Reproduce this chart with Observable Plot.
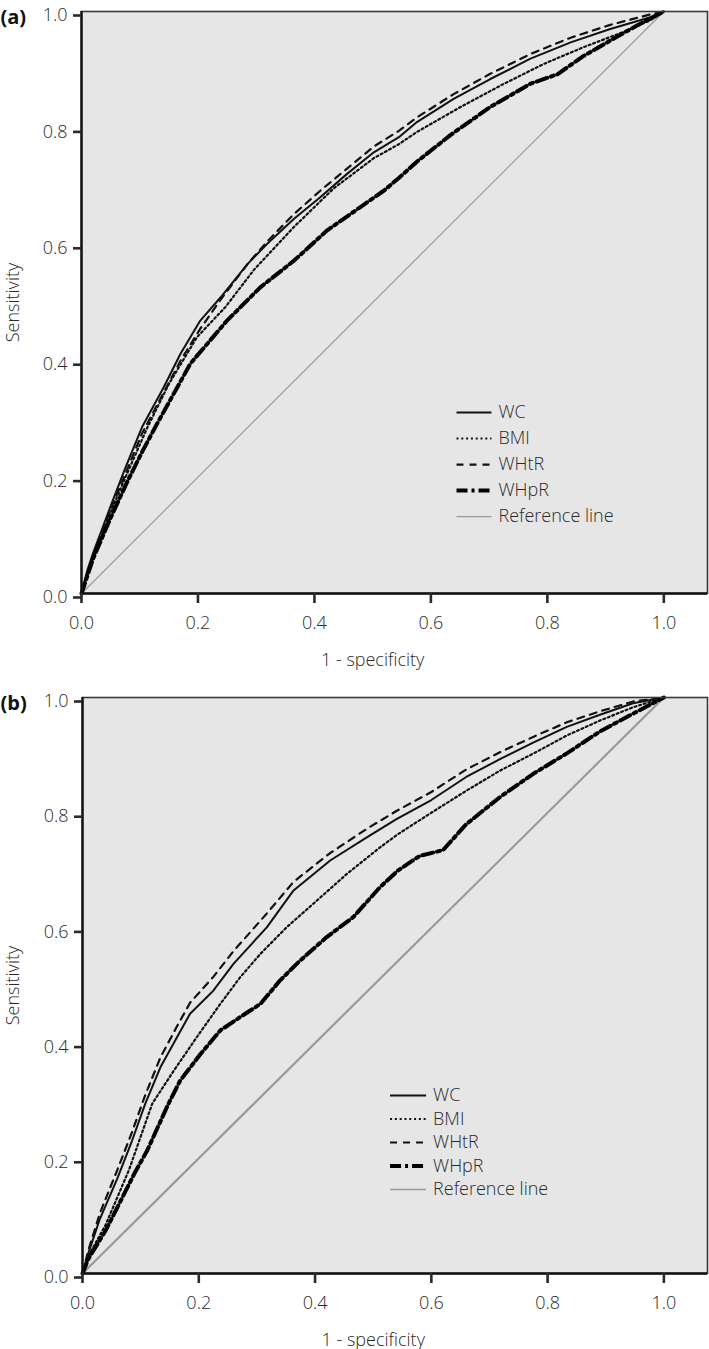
<!DOCTYPE html>
<html>
<head>
<meta charset="utf-8">
<script src="https://cdn.jsdelivr.net/npm/d3@7"></script>
<script src="https://cdn.jsdelivr.net/npm/@observablehq/plot@0.6"></script>
<style>
  html, body { margin: 0; padding: 0; background: #fff; }
  #chart div, #chart svg { display: block; }
</style>
</head>
<body>
<div id="chart"></div>
<script>
// ---------- data ----------
const seriesNames = ["WC", "BMI", "WHtR", "WHpR"];
const legendLabels = ["WC", "BMI", "WHtR", "WHpR", "Reference line"];
const xTicks = [0, 0.2, 0.4, 0.6, 0.8, 1.0];
const yTicks = [0, 0.2, 0.4, 0.6, 0.8, 1.0];
const referenceLine = [[0, 0], [1, 1]];

// Panel (a)
const aWC = [[0,0],[0.01,0.04],[0.02,0.07],[0.035,0.11],[0.05,0.15],[0.075,0.215],[0.104,0.286],[0.141,0.354],[0.170,0.412],[0.204,0.469],[0.239,0.509],[0.285,0.566],[0.319,0.601],[0.365,0.644],[0.410,0.681],[0.456,0.721],[0.502,0.758],[0.545,0.784],[0.576,0.810],[0.639,0.850],[0.702,0.884],[0.771,0.919],[0.840,0.947],[0.908,0.970],[0.977,0.990],[1,1]];
const aBMI = [[0,0],[0.01,0.035],[0.02,0.065],[0.035,0.10],[0.05,0.14],[0.08,0.21],[0.113,0.285],[0.150,0.36],[0.198,0.44],[0.247,0.492],[0.296,0.556],[0.365,0.630],[0.433,0.696],[0.502,0.748],[0.545,0.772],[0.576,0.793],[0.651,0.836],[0.720,0.873],[0.794,0.910],[0.863,0.939],[0.931,0.965],[0.977,0.985],[1,1]];
const aWHtR = [[0,0],[0.01,0.035],[0.02,0.065],[0.035,0.105],[0.05,0.145],[0.075,0.205],[0.104,0.275],[0.141,0.345],[0.170,0.400],[0.204,0.455],[0.239,0.505],[0.285,0.566],[0.319,0.605],[0.365,0.652],[0.410,0.692],[0.456,0.730],[0.502,0.768],[0.545,0.795],[0.576,0.818],[0.639,0.858],[0.702,0.893],[0.771,0.927],[0.840,0.955],[0.908,0.977],[0.977,0.995],[1,1]];
const aWHpR = [[0,0],[0.01,0.03],[0.02,0.06],[0.035,0.095],[0.05,0.13],[0.08,0.195],[0.105,0.245],[0.130,0.292],[0.187,0.395],[0.250,0.469],[0.307,0.526],[0.365,0.572],[0.422,0.624],[0.479,0.664],[0.519,0.692],[0.545,0.714],[0.576,0.742],[0.634,0.788],[0.702,0.836],[0.771,0.876],[0.817,0.892],[0.863,0.924],[0.908,0.950],[0.954,0.976],[1,1]];

// Panel (b)
const bWC = [[0,0],[0.01,0.035],[0.03,0.095],[0.06,0.165],[0.085,0.23],[0.108,0.295],[0.134,0.358],[0.163,0.411],[0.185,0.451],[0.225,0.491],[0.260,0.538],[0.317,0.601],[0.363,0.665],[0.426,0.717],[0.489,0.757],[0.540,0.789],[0.60,0.822],[0.66,0.862],[0.718,0.893],[0.776,0.922],[0.833,0.949],[0.890,0.970],[0.947,0.990],[1,1]];
const bBMI = [[0,0],[0.01,0.03],[0.04,0.085],[0.08,0.18],[0.120,0.295],[0.157,0.352],[0.197,0.411],[0.237,0.468],[0.271,0.514],[0.306,0.555],[0.351,0.601],[0.397,0.642],[0.455,0.694],[0.512,0.740],[0.543,0.763],[0.60,0.80],[0.66,0.838],[0.718,0.873],[0.776,0.903],[0.833,0.934],[0.890,0.960],[0.947,0.983],[1,1]];
const bWHtR = [[0,0],[0.01,0.04],[0.03,0.105],[0.06,0.18],[0.085,0.245],[0.108,0.31],[0.134,0.375],[0.163,0.43],[0.185,0.47],[0.225,0.515],[0.260,0.56],[0.317,0.625],[0.363,0.68],[0.426,0.73],[0.489,0.772],[0.540,0.803],[0.60,0.836],[0.66,0.875],[0.718,0.905],[0.776,0.932],[0.833,0.957],[0.890,0.976],[0.947,0.993],[1,1]];
const bWHpR = [[0,0],[0.01,0.025],[0.04,0.075],[0.07,0.135],[0.09,0.175],[0.111,0.213],[0.148,0.295],[0.168,0.335],[0.203,0.381],[0.237,0.422],[0.271,0.445],[0.306,0.468],[0.340,0.509],[0.374,0.543],[0.420,0.584],[0.466,0.619],[0.512,0.671],[0.543,0.700],[0.58,0.725],[0.62,0.735],[0.66,0.78],[0.718,0.827],[0.776,0.868],[0.833,0.903],[0.890,0.941],[0.947,0.972],[1,1]];

// ---------- styles ----------
const FONT = "'Open Sans', 'Noto Sans', sans-serif";
const styleOf = {
  "WC":   {stroke: "#111", strokeWidth: 2},
  "BMI":  {stroke: "#111", strokeWidth: 2.2, strokeDasharray: "2,2.8"},
  "WHtR": {stroke: "#111", strokeWidth: 2.2, strokeDasharray: "7,6"},
  "WHpR": {stroke: "#000", strokeWidth: 4, strokeDasharray: "11,4,3,4"},
  "Reference line": {stroke: "#9a9a9a", strokeWidth: 1.3}
};

function panel({tag, data, height, marginTop, marginBottom, marginLeft, refWidth, legend}) {
  const marks = [
    Plot.frame({fill: "#e6e6e6", stroke: null}),
    Plot.line(referenceLine, {x: d => d[0], y: d => d[1], ...styleOf["Reference line"], strokeWidth: refWidth})
  ];
  const order = ["WC", "BMI", "WHtR", "WHpR"];
  order.forEach((name, i) => {
    marks.push(Plot.line(data[i], {x: d => d[0], y: d => d[1], ...styleOf[name], strokeLinejoin: "round"}));
  });
  // legend inside plot
  legendLabels.forEach((name, i) => {
    const yv = legend.y0 - i * legend.step;
    marks.push(Plot.link([name], {x1: legend.x1, x2: legend.x2, y1: yv, y2: yv, ...styleOf[name]}));
    marks.push(Plot.text([name], {x: legend.tx, y: yv, text: d => d, textAnchor: "start", fontSize: 18, fontWeight: 300, fill: "#2a2a2a", lineAnchor: "middle"}));
  });
  marks.push(
    Plot.frame({stroke: "#3a3a3a", strokeWidth: 1.6}),
    Plot.ruleX([0], {stroke: "#111", strokeWidth: 2.4}),
    Plot.ruleY([0], {stroke: "#111", strokeWidth: 2.4}),
    Plot.axisX({ticks: xTicks, tickFormat: d3.format(".1f"), tickSize: 10, tickPadding: 13, fontSize: 18, fontWeight: 300, strokeWidth: 2.6, color: "#2a2a2a", label: null}),
    Plot.axisY({ticks: yTicks, tickFormat: d3.format(".1f"), tickSize: 8, tickPadding: 6, fontSize: 18, fontWeight: 300, strokeWidth: 2.6, color: "#2a2a2a", label: null, dy: 4}),
    Plot.text(["Sensitivity"], {frameAnchor: "left", dx: -(marginLeft - 13), rotate: -90, text: d => d, fontSize: 18, fontWeight: 300, fill: "#2a2a2a", textAnchor: "middle", lineAnchor: "middle"}),
    Plot.text(["1 - specificity"], {x: 0.5, frameAnchor: "bottom", dy: 67, text: d => d, fontSize: 18, fontWeight: 300, fill: "#2a2a2a", lineAnchor: "middle"}),
    Plot.text([tag], {frameAnchor: "top-left", dx: -marginLeft, dy: 6, text: d => d, fontSize: 20, fontWeight: "bold", fill: "#111", textAnchor: "start", lineAnchor: "middle"})
  );
  return Plot.plot({
    width: 709,
    height,
    marginTop,
    marginBottom,
    marginLeft,
    marginRight: 2,
    x: {domain: [0, 1.075], axis: null},
    y: {domain: [0, 1], axis: null},
    style: {fontFamily: FONT, background: "#fff", overflow: "visible"},
    marks
  });
}

const chart = document.getElementById("chart");
chart.appendChild(panel({
  tag: "(a)",
  data: [aWC, aBMI, aWHtR, aWHpR],
  height: 680, marginTop: 11, marginBottom: 87, marginLeft: 81, refWidth: 1.2,
  legend: {x1: 0.644, x2: 0.704, tx: 0.716, y0: 0.311, step: 0.0447}
}));
chart.appendChild(panel({
  tag: "(b)",
  data: [bWC, bBMI, bWHtR, bWHpR],
  height: 669, marginTop: 17, marginBottom: 76, marginLeft: 82, refWidth: 2.2,
  legend: {x1: 0.529, x2: 0.591, tx: 0.603, y0: 0.309, step: 0.0408}
}));
</script>
</body>
</html>
